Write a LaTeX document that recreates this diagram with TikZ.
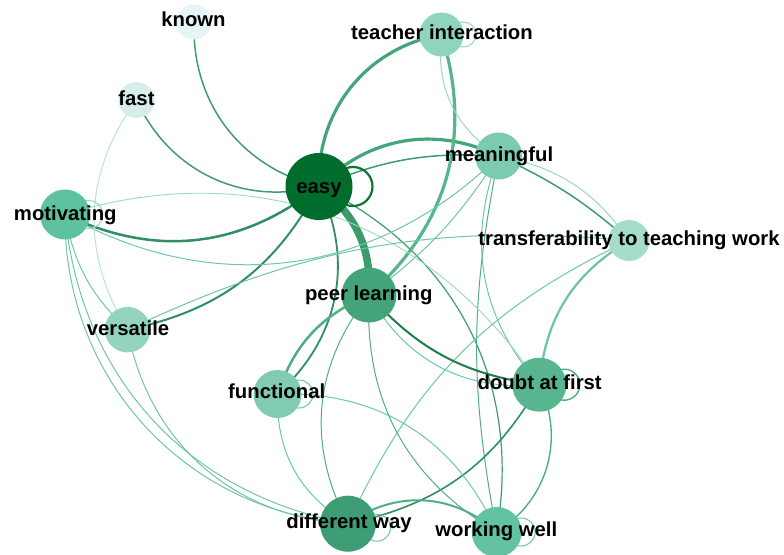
\documentclass[tikz,border=0pt]{standalone}
\usepackage{fontspec}
\setmainfont{Liberation Sans}
\pgfdeclarelayer{edges}
\pgfsetlayers{edges,main}
\definecolor{nKnown}{HTML}{E5F5F5}
\definecolor{nFast}{HTML}{D5EEEB}
\definecolor{nEasy}{HTML}{006D2C}
\definecolor{nTeach}{HTML}{90D4BF}
\definecolor{nMean}{HTML}{7CCBB0}
\definecolor{nTrans}{HTML}{A5DCCB}
\definecolor{nMot}{HTML}{5EC29F}
\definecolor{nPeer}{HTML}{43A47A}
\definecolor{nVers}{HTML}{93D4BE}
\definecolor{nFunc}{HTML}{80CBB2}
\definecolor{nDoubt}{HTML}{57B690}
\definecolor{nDiff}{HTML}{3E9D74}
\definecolor{nWork}{HTML}{63C2A1}
\definecolor{ePeer}{HTML}{3C9B6A}
\definecolor{eThick}{HTML}{44A678}
\definecolor{eTP}{HTML}{56B689}
\definecolor{eTD}{HTML}{6CC4A3}
\definecolor{eDark}{HTML}{1D7F45}
\definecolor{eLoop}{HTML}{0E7436}
\definecolor{eMidD}{HTML}{2E9060}
\definecolor{eMid}{HTML}{3F9C6E}
\definecolor{eMidL}{HTML}{4FAE84}
\definecolor{eLight}{HTML}{6FC6A6}
\definecolor{eVLight}{HTML}{9AD8C3}
\definecolor{eVVLight}{HTML}{B8E3D6}
\begin{document}
\begin{tikzpicture}[x=1pt,y=1pt,
  vtx/.style={circle,inner sep=0pt,draw=none,minimum size=#1},
  lbl/.style={font=\bfseries\fontsize{20.3}{24}\selectfont,anchor=base,inner sep=0pt,text=black},
  ed/.style 2 args={draw=#1,line width=#2pt,line cap=round}]
\useasboundingbox (0,0) rectangle (784,-554);
\clip (0,0) rectangle (784,-554);
% vertices
\node[vtx=35pt,fill=nKnown] (known) at (194,-22) {};
\node[vtx=36pt,fill=nFast] (fast) at (136.5,-100) {};
\node[vtx=67pt,fill=nEasy] (easy) at (319,-186.5) {};
\node[vtx=44pt,fill=nTeach] (teacher) at (441.5,-34.5) {};
\node[vtx=47pt,fill=nMean] (meaningful) at (498.7,-156) {};
\node[vtx=41pt,fill=nTrans] (transfer) at (629,-240.5) {};
\node[vtx=50pt,fill=nMot] (motivating) at (65,-214.5) {};
\node[vtx=55pt,fill=nPeer] (peer) at (369,-295) {};
\node[vtx=45.5pt,fill=nVers] (versatile) at (127.5,-329.7) {};
\node[vtx=48pt,fill=nFunc] (functional) at (277.5,-394) {};
\node[vtx=54pt,fill=nDoubt] (doubt) at (539.3,-384.7) {};
\node[vtx=56pt,fill=nDiff] (different) at (348,-523.7) {};
\node[vtx=50pt,fill=nWork] (working) at (496.7,-532) {};
\begin{pgfonlayer}{edges}
\draw[ed={eMid}{1.5}] (known.center) to[bend right=39] (easy.center);
\draw[ed={eMid}{1.5}] (fast.center) to[bend right=40] (easy.center);
\draw[ed={eThick}{3.2}] (easy.center) to[bend left=41] (teacher.center);
\draw[ed={eThick}{3.2}] (easy.center) to[bend left=35] (meaningful.center);
\draw[ed={eMid}{1.5}] (easy.center) to[bend left=13] (meaningful.center);
\draw[ed={ePeer}{7.5}] (easy.center) to[bend left=28] (peer.center);
\draw[ed={eMidD}{2.5}] (easy.center) to[bend left=32] (motivating.center);
\draw[ed={eMidD}{2}] (easy.center) to[bend left=25] (versatile.center);
\draw[ed={eMidD}{1.8}] (easy.center) to[bend left=37] (functional.center);
\draw[ed={eMid}{1.2}] (easy.center) to[bend left=37] (working.center);
\draw[ed={eTP}{3.2}] (teacher.center) to[bend left=33] (peer.center);
\draw[ed={eVLight}{1}] (teacher.center) to[bend right=32] (meaningful.center);
\draw[ed={eVLight}{1}] (meaningful.center) to[bend left=22] (transfer.center);
\draw[ed={eMid}{1.5}] (meaningful.center) to[bend left=8] (transfer.center);
\draw[ed={eMidL}{1}] (meaningful.center) to[bend right=11] (working.center);
\draw[ed={eLight}{1}] (meaningful.center) to[bend right=31] (doubt.center);
\draw[ed={eLight}{1}] (motivating.center) to[bend right=37] (meaningful.center);
\draw[ed={eLight}{1}] (peer.center) to[bend right=10] (meaningful.center);
\draw[ed={eVLight}{0.9}] (motivating.center) to[bend left=37] (doubt.center);
\draw[ed={eLight}{1}] (versatile.center) to[bend left=15] (transfer.center);
\draw[ed={eTD}{2.2}] (transfer.center) to[bend right=27] (doubt.center);
\draw[ed={eLight}{1}] (different.center) to[bend left=20] (transfer.center);
\draw[ed={eMidD}{1.6}] (doubt.center) to[bend left=24] (different.center);
\draw[ed={eMidL}{1.4}] (doubt.center) to[bend left=42] (working.center);
\draw[ed={eMidL}{2}] (different.center) to[bend left=39] (working.center);
\draw[ed={eLight}{1}] (functional.center) to[bend left=34] (working.center);
\draw[ed={eLight}{1}] (functional.center) to[bend right=30] (different.center);
\draw[ed={eMidL}{2.5}] (peer.center) to[bend right=24] (functional.center);
\draw[ed={eDark}{2}] (peer.center) to[bend right=20] (doubt.center);
\draw[ed={eLight}{1}] (peer.center) to[bend right=33] (doubt.center);
\draw[ed={eMidL}{1}] (peer.center) to[bend right=33] (different.center);
\draw[ed={eMidL}{1}] (peer.center) to[bend right=31] (working.center);
\draw[ed={eLight}{1}] (versatile.center) to[bend right=38] (different.center);
\draw[ed={eLight}{1}] (motivating.center) to[bend right=37] (different.center);
\draw[ed={eLight}{1}] (motivating.center) to[bend right=43] (different.center);
\draw[ed={eLight}{1}] (motivating.center) to[bend right=18] (versatile.center);
\draw[ed={eVVLight}{1}] (fast.center) to[bend right=34] (versatile.center);
% self loops
\draw[ed={eLoop}{2.2}] (easy.center) ++(34,0) circle (19.5);
\draw[ed={eVLight}{1}] (teacher.center) ++(22,0) circle (12.5);
\draw[ed={eVLight}{1}] (motivating.center) ++(24,0) circle (14);
\draw[ed={eLight}{1}] (functional.center) ++(21.5,0) circle (14);
\draw[ed={eMidL}{1.4}] (doubt.center) ++(25,0) circle (15.5);
\draw[ed={eLight}{1}] (different.center) ++(29,-4) circle (13.5);
\draw[ed={eLight}{1}] (working.center) ++(24.5,0) circle (14);
\end{pgfonlayer}
% labels
\node[lbl] (lknown) at (193.5,-27) {known};
\node[lbl] (lfast) at (136.5,-105) {fast};
\node[lbl] (leasy) at (319,-193) {easy};
\node[lbl] (lteacher) at (442,-39) {teacher interaction};
\node[lbl] (lmeaningful) at (499,-161) {meaningful};
\node[lbl] (ltransfer) at (629,-245) {transferability to teaching work};
\node[lbl] (lmotivating) at (65.3,-220) {motivating};
\node[lbl] (lpeer) at (368.8,-300) {peer learning};
\node[lbl] (lversatile) at (128,-335) {versatile};
\node[lbl] (lfunctional) at (276.7,-398.3) {functional};
\node[lbl] (ldoubt) at (539.7,-389) {doubt at first};
\node[lbl] (ldifferent) at (349,-528.3) {different way};
\node[lbl] (lworking) at (496.3,-536.7) {working well};
\end{tikzpicture}
\end{document}
